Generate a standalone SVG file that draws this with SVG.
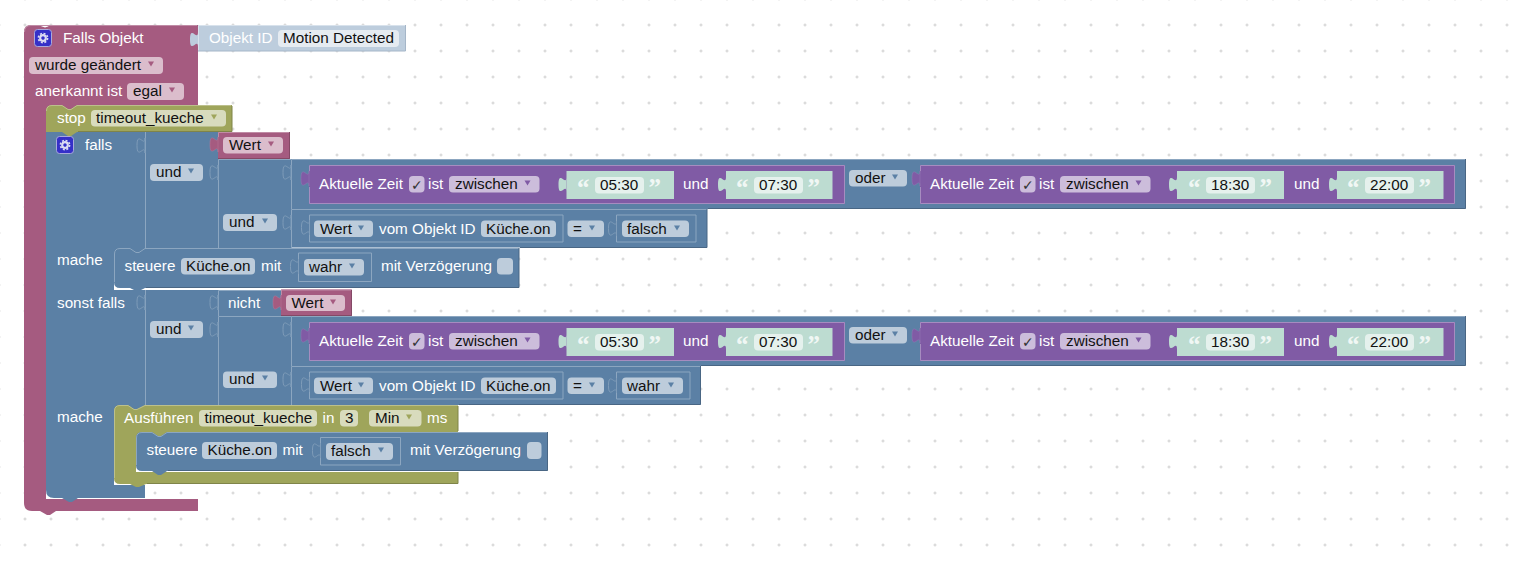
<svg xmlns="http://www.w3.org/2000/svg" width="1521" height="568" viewBox="0 0 1521 568">
<style>
text{font-family:"Liberation Sans",Arial,sans-serif;font-size:15.25px;fill:#fff}
text.d{fill:#111}
text.c{font-family:"DejaVu Sans",sans-serif;font-size:14px;fill:#333}
text.q{font-family:"Liberation Serif",serif;font-weight:bold;font-size:25px;fill:#fff;fill-opacity:.8}
.f{fill:#fff;fill-opacity:.6}
.blue{fill:#5b80a5}.pink{fill:#a55b80}.purple{fill:#805ba5}.olive{fill:#9fa55b}.teal{fill:#bddcd1}.sky{fill:#bdcddd}
.lb{fill:none;stroke:#8ca6c0;stroke-width:1}.db{fill:none;stroke:#496684;stroke-width:1}
.lp{fill:none;stroke:#c08ca6;stroke-width:1}.dp{fill:none;stroke:#844966;stroke-width:1}
.lv{fill:none;stroke:#a68cc0;stroke-width:1}
.lo{fill:none;stroke:#bcc08c;stroke-width:1}.do{fill:none;stroke:#7f8449;stroke-width:1}
.ab{fill:#5b80a5}.ap{fill:#a55b80}.av{fill:#805ba5}.ao{fill:#9fa55b}
.sock{fill:#5b80a5;stroke:#7f9cb9;stroke-width:1}
.tp{fill:#a55b80;stroke:#b8799a;stroke-width:.5}
.tv{fill:#805ba5;stroke:#9478b4;stroke-width:.5}
.ic{fill:#3530c8;stroke:#a9a9dc;stroke-width:1}
</style>
<defs>
<pattern id="grid" patternUnits="userSpaceOnUse" x="12" y="12" width="26" height="26">
<path d="M11.5,13H14.5M13,11.500V14.500" stroke="#cfcfcf" stroke-width="1" fill="none"/>
</pattern>
<path id="tab" d="M0,0c0,10 -8,-8 -8,7.5s8,-2.5 8,7.5z"/>
<path id="arr" d="M-3,-2.5H3L0,2.5z"/>
<g id="gear"><circle r="2.8" fill="none" stroke="#dcdcf2" stroke-width="2.2"/><circle r="4.6" fill="none" stroke="#dcdcf2" stroke-width="1.6" stroke-dasharray="2 1.61"/></g>
</defs>
<rect x="0" y="0" width="1521" height="568" fill="#fff"/>
<rect x="0" y="0" width="1521" height="568" fill="url(#grid)"/>

<g id="hat">
<path class="pink" d="M24,32Q24,25 31,25H39l3,1.500 3,1 3,-1 2,-1.500H198V111H46V499H198V511H56l-6,4 -3,0 -7,-4H32Q24,511 24,503Z"/>
<path class="lp" d="M24.500,32Q24.500,25.500 31,25.500H197"/>
<text x="63" y="43">Falls Objekt</text>
<rect class="ic" x="34.500" y="29.500" width="17" height="17" rx="3"/><use href="#gear" x="43" y="38"/>
<rect class="f" x="29" y="57" width="134" height="17" rx="4"/>
<text class="d" x="35" y="70">wurde geändert</text><use class="ap" href="#arr" x="151" y="64"/>
<text x="35" y="96">anerkannt ist</text>
<rect class="f" x="127" y="83" width="57" height="17" rx="4"/>
<text class="d" x="133" y="96">egal</text><use class="ap" href="#arr" x="172" y="90"/>
</g>

<g id="objekt-id">
<path class="sky" d="M198,25H405.500V51H198Z"/><use class="sky" href="#tab" x="198" y="32"/>
<path d="M198.500,51V25.500H405" fill="none" stroke="#d8e2ec"/>
<path d="M405.500,25V51H198" fill="none" stroke="#a5b6c8"/>
<text x="209" y="43">Objekt ID</text>
<rect class="f" x="278" y="30" width="121" height="17" rx="4"/>
<text class="d" x="283" y="43">Motion Detected</text>
</g>

<g id="if-block">
<path class="blue" d="M46,132H145V254H114V290H145V411H114V485H145V498H78l-6,4 -3,0 -7,-4H54Q46,498 46,490Z"/>
<text x="85" y="150">falls</text>
<rect class="ic" x="56.500" y="136.500" width="17" height="17" rx="3"/><use href="#gear" x="65" y="145"/>
<text x="57" y="265">mache</text>
<text x="57" y="308">sonst falls</text>
<text x="57" y="422">mache</text>
</g>

<g id="stop">
<path class="olive" d="M46,111Q46,105 52,105H62l6,4 3,0 6,-4H232V132H77l-6,4 -3,0 -6,-4H46Z"/>
<path class="lo" d="M46.500,111Q46.500,105.500 52,105.500H62l6,4 3,0 6,-4H231"/><path class="do" d="M232,106V131.500H78"/>
<text x="57" y="123">stop</text>
<rect class="f" x="91" y="110" width="135" height="16.500" rx="4"/>
<text class="d" x="96" y="123">timeout_kueche</text><use class="ao" href="#arr" x="214" y="117"/>
</g>

<g id="und-outer-1">
<path class="blue" d="M145,132H218V248H145Z"/><path class="lb" d="M145.500,132V248"/>
<use class="sock" href="#tab" x="145" y="138"/>
<rect class="f" x="150" y="164" width="53" height="17" rx="4"/>
<text class="d" x="156" y="177">und</text><use class="ab" href="#arr" x="191" y="171"/>
</g>
<g id="wert-1">
<path class="pink" d="M218,132H290V159H218Z"/><use class="tp" href="#tab" x="218" y="137"/>
<path class="lp" d="M218.500,137V132.500H289"/><path class="dp" d="M289.500,132V158.500H218"/>
<rect class="f" x="223" y="137" width="60" height="16.500" rx="4"/>
<text class="d" x="229" y="150">Wert</text><use class="ap" href="#arr" x="271" y="144"/>
</g>
<g id="und-inner-1">
<path class="blue" d="M218,159H291V248H218Z"/><path class="lb" d="M218.500,248V159.500H291"/>
<use class="sock" href="#tab" x="218" y="165"/>
<rect class="f" x="223" y="214" width="54" height="17" rx="4"/>
<text class="d" x="229" y="227">und</text><use class="ab" href="#arr" x="265" y="221"/>
</g>

<g id="oder-1">
<path class="blue" d="M291,159H1465.500V209H291Z"/><path class="lb" d="M291.500,209V159.500H1465"/><path class="db" d="M1465.500,159V208.500H708"/>
<use class="sock" href="#tab" x="291" y="165"/>
<rect class="f" x="849" y="170" width="58" height="16.500" rx="4"/>
<text class="d" x="855" y="183">oder</text><use class="ab" href="#arr" x="895" y="177"/>
<g id="zeit-1">
<path class="purple" d="M309,165H845V204H309Z"/><use class="tv" href="#tab" x="309" y="171"/>
<path class="lv" d="M309.500,171V165.500H844.500V203.500H309.500V187"/>
<text x="319" y="189">Aktuelle Zeit</text>
<rect class="f" x="409" y="176" width="15.500" height="16.500" rx="4"/><text class="c" x="411" y="190">✓</text>
<text x="428" y="189">ist</text>
<rect class="f" x="449" y="176" width="90.500" height="16.500" rx="4"/>
<text class="d" x="455" y="189">zwischen</text><use class="av" href="#arr" x="527.500" y="183"/>
<path class="teal" d="M566.500,171H674V199H566.500Z"/><use class="teal" href="#tab" x="566.500" y="177"/>
<text class="q" x="577" y="196">“</text><rect class="f" x="595" y="177" width="49" height="16.500" rx="4"/>
<text class="d" x="600" y="190">05:30</text><text class="q" x="648.500" y="196">”</text>
<text x="683" y="189">und</text>
<path class="teal" d="M726,171H832.500V199H726Z"/><use class="teal" href="#tab" x="726" y="177"/>
<text class="q" x="736" y="196">“</text><rect class="f" x="754" y="177" width="49" height="16.500" rx="4"/>
<text class="d" x="759" y="190">07:30</text><text class="q" x="807.500" y="196">”</text>
</g>
<g id="zeit-2" transform="translate(611,0)">
<path class="purple" d="M309,165H844V204H309Z"/><use class="tv" href="#tab" x="309" y="171"/>
<path class="lv" d="M309.500,171V165.500H843.500V203.500H309.500V187"/>
<text x="319" y="189">Aktuelle Zeit</text>
<rect class="f" x="409" y="176" width="15.500" height="16.500" rx="4"/><text class="c" x="411" y="190">✓</text>
<text x="428" y="189">ist</text>
<rect class="f" x="449" y="176" width="90.500" height="16.500" rx="4"/>
<text class="d" x="455" y="189">zwischen</text><use class="av" href="#arr" x="527.500" y="183"/>
<path class="teal" d="M566,171H673V199H566Z"/><use class="teal" href="#tab" x="566" y="177"/>
<text class="q" x="577" y="196">“</text><rect class="f" x="595" y="177" width="49" height="16.500" rx="4"/>
<text class="d" x="600" y="190">18:30</text><text class="q" x="648.500" y="196">”</text>
<text x="683" y="189">und</text>
<path class="teal" d="M726,171H832.500V199H726Z"/><use class="teal" href="#tab" x="726" y="177"/>
<text class="q" x="736" y="196">“</text><rect class="f" x="754" y="177" width="49" height="16.500" rx="4"/>
<text class="d" x="759" y="190">22:00</text><text class="q" x="807.500" y="196">”</text>
</g>
</g>

<g id="und-row-1">
<path class="blue" d="M291,209H707V247.500H291Z"/><path class="lb" d="M291.500,248V209.500H707"/><path class="db" d="M707,209V247.500H520"/>
<use class="sock" href="#tab" x="291" y="215"/>
<path class="lb" d="M309.500,215H563V242H309.500Z"/><use class="sock" href="#tab" x="309.500" y="220"/>
<rect class="f" x="314" y="220.500" width="59" height="16.500" rx="4"/>
<text class="d" x="320" y="234">Wert</text><use class="ab" href="#arr" x="361" y="228"/>
<text x="379" y="234">vom Objekt ID</text>
<rect class="f" x="481" y="220.500" width="75" height="16.500" rx="4"/>
<text class="d" x="486" y="234">Küche.on</text>
<rect class="f" x="567.500" y="220.500" width="36.500" height="16.500" rx="4"/>
<text class="d" x="573" y="234">=</text><use class="ab" href="#arr" x="592" y="228"/>
<path class="lb" d="M616.500,215H696V242H616.500Z"/><use class="sock" href="#tab" x="616.500" y="221"/>
<rect class="f" x="622" y="220.500" width="67" height="16.500" rx="4"/>
<text class="d" x="627" y="234">falsch</text><use class="ab" href="#arr" x="677" y="228"/>
</g>

<g id="steuere-1">
<path class="blue" d="M120,248H130l6,4 3,0 6,-4H519V288H145l-6,3 -3,0 -6,-3H120Q114,288 114,282V254Q114,248 120,248Z"/>
<path class="lb" d="M114.500,282V254Q114.500,248.500 120,248.500H130l6,4 3,0 6,-4H519"/>
<path class="db" d="M519,248V287.500H146"/>
<text x="124.500" y="271">steuere</text>
<rect class="f" x="181" y="258" width="74" height="16.500" rx="4"/>
<text class="d" x="186" y="271">Küche.on</text>
<text x="261" y="271">mit</text>
<path class="lb" d="M298.500,253H371.500V281.500H298.500Z"/><use class="sock" href="#tab" x="298.500" y="259"/>
<rect class="f" x="304" y="259" width="60" height="16.500" rx="4"/>
<text class="d" x="309" y="272">wahr</text><use class="ab" href="#arr" x="352" y="266"/>
<text x="381" y="271">mit Verzögerung</text>
<rect class="f" x="497" y="258" width="16" height="16.500" rx="4"/>
</g>

<g id="und-outer-2">
<path class="blue" d="M145,290H218V405H145Z"/><path class="lb" d="M145.500,290V405"/>
<use class="sock" href="#tab" x="145" y="295"/>
<rect class="f" x="150" y="321" width="53" height="17" rx="4"/>
<text class="d" x="156" y="334">und</text><use class="ab" href="#arr" x="191" y="328"/>
</g>
<g id="nicht">
<path class="blue" d="M218,290H281V316H218Z"/><path class="lb" d="M218.500,316V290.500H281"/>
<use class="sock" href="#tab" x="218" y="295"/>
<text x="228" y="308">nicht</text>
</g>
<g id="wert-2">
<path class="pink" d="M281,289.500H352V316H281Z"/><use class="tp" href="#tab" x="281" y="295"/>
<path class="lp" d="M281.500,295V290H351"/><path class="dp" d="M351.500,290V315.500H281"/>
<rect class="f" x="286" y="295" width="59" height="16" rx="4"/>
<text class="d" x="291.500" y="308">Wert</text><use class="ap" href="#arr" x="333" y="302"/>
</g>
<g id="und-inner-2">
<path class="blue" d="M218,316H291V405H218Z"/><path class="lb" d="M218.500,405V316.500H291"/>
<use class="sock" href="#tab" x="218" y="322"/>
<rect class="f" x="223" y="371.500" width="54" height="16.500" rx="4"/>
<text class="d" x="229" y="384">und</text><use class="ab" href="#arr" x="265" y="378"/>
</g>

<g id="oder-2">
<path class="blue" d="M291,316H1465.500V366H291Z"/><path class="lb" d="M291.500,366V316.500H1465"/><path class="db" d="M1465.500,316V365.500H701"/>
<use class="sock" href="#tab" x="291" y="322"/>
<rect class="f" x="849" y="327" width="58" height="16.500" rx="4"/>
<text class="d" x="855" y="340">oder</text><use class="ab" href="#arr" x="895" y="334"/>
<g id="zeit-3" transform="translate(0,157)">
<path class="purple" d="M309,165H845V204H309Z"/><use class="tv" href="#tab" x="309" y="171"/>
<path class="lv" d="M309.500,171V165.500H844.500V203.500H309.500V187"/>
<text x="319" y="189">Aktuelle Zeit</text>
<rect class="f" x="409" y="176" width="15.500" height="16.500" rx="4"/><text class="c" x="411" y="190">✓</text>
<text x="428" y="189">ist</text>
<rect class="f" x="449" y="176" width="90.500" height="16.500" rx="4"/>
<text class="d" x="455" y="189">zwischen</text><use class="av" href="#arr" x="527.500" y="183"/>
<path class="teal" d="M566.500,171H674V199H566.500Z"/><use class="teal" href="#tab" x="566.500" y="177"/>
<text class="q" x="577" y="196">“</text><rect class="f" x="595" y="177" width="49" height="16.500" rx="4"/>
<text class="d" x="600" y="190">05:30</text><text class="q" x="648.500" y="196">”</text>
<text x="683" y="189">und</text>
<path class="teal" d="M726,171H832.500V199H726Z"/><use class="teal" href="#tab" x="726" y="177"/>
<text class="q" x="736" y="196">“</text><rect class="f" x="754" y="177" width="49" height="16.500" rx="4"/>
<text class="d" x="759" y="190">07:30</text><text class="q" x="807.500" y="196">”</text>
</g>
<g id="zeit-4" transform="translate(611,157)">
<path class="purple" d="M309,165H844V204H309Z"/><use class="tv" href="#tab" x="309" y="171"/>
<path class="lv" d="M309.500,171V165.500H843.500V203.500H309.500V187"/>
<text x="319" y="189">Aktuelle Zeit</text>
<rect class="f" x="409" y="176" width="15.500" height="16.500" rx="4"/><text class="c" x="411" y="190">✓</text>
<text x="428" y="189">ist</text>
<rect class="f" x="449" y="176" width="90.500" height="16.500" rx="4"/>
<text class="d" x="455" y="189">zwischen</text><use class="av" href="#arr" x="527.500" y="183"/>
<path class="teal" d="M566,171H673V199H566Z"/><use class="teal" href="#tab" x="566" y="177"/>
<text class="q" x="577" y="196">“</text><rect class="f" x="595" y="177" width="49" height="16.500" rx="4"/>
<text class="d" x="600" y="190">18:30</text><text class="q" x="648.500" y="196">”</text>
<text x="683" y="189">und</text>
<path class="teal" d="M726,171H832.500V199H726Z"/><use class="teal" href="#tab" x="726" y="177"/>
<text class="q" x="736" y="196">“</text><rect class="f" x="754" y="177" width="49" height="16.500" rx="4"/>
<text class="d" x="759" y="190">22:00</text><text class="q" x="807.500" y="196">”</text>
</g>
</g>

<g id="und-row-2">
<path class="blue" d="M291,366H700.500V405H291Z"/><path class="lb" d="M291.500,405V366.500H700"/><path class="db" d="M700.500,366V404.500H459"/>
<use class="sock" href="#tab" x="291" y="372"/>
<path class="lb" d="M309.500,372H563V399H309.500Z"/><use class="sock" href="#tab" x="309.500" y="377"/>
<rect class="f" x="314" y="377.500" width="59" height="16.500" rx="4"/>
<text class="d" x="320" y="391">Wert</text><use class="ab" href="#arr" x="361" y="385"/>
<text x="379" y="391">vom Objekt ID</text>
<rect class="f" x="481" y="377.500" width="75" height="16.500" rx="4"/>
<text class="d" x="486" y="391">Küche.on</text>
<rect class="f" x="567.500" y="377.500" width="36.500" height="16.500" rx="4"/>
<text class="d" x="573" y="391">=</text><use class="ab" href="#arr" x="592" y="385"/>
<path class="lb" d="M616.500,372H690V399H616.500Z"/><use class="sock" href="#tab" x="616.500" y="378"/>
<rect class="f" x="622" y="377.500" width="61" height="16.500" rx="4"/>
<text class="d" x="627" y="391">wahr</text><use class="ab" href="#arr" x="671" y="385"/>
</g>

<g id="ausfuehren">
<path class="olive" d="M120,405H128l6,4 3,0 8,-4H458V432H172V438H136V472H458V484H146l-7,3 -3,0 -6,-3H120Q114,484 114,478V411Q114,405 120,405Z"/>
<path class="lo" d="M114.500,478V411Q114.500,405.500 120,405.500H128l6,4 3,0 8,-4H458"/>
<path class="do" d="M458,406V431M458,472V483.500H147"/>
<text x="124" y="423">Ausführen</text>
<rect class="f" x="199" y="410" width="118" height="16.500" rx="4"/>
<text class="d" x="204.500" y="423">timeout_kueche</text>
<text x="322.500" y="423">in</text>
<rect class="f" x="340" y="410" width="18" height="16.500" rx="4"/>
<text class="d" x="345" y="423">3</text>
<rect class="f" x="369" y="410" width="52.500" height="16.500" rx="4"/>
<text class="d" x="375" y="423">Min</text><use class="ao" href="#arr" x="409" y="417"/>
<text x="427" y="423">ms</text>
</g>

<g id="steuere-2">
<path class="blue" d="M142,432H152l6,4 3,0 6,-4H547.500V471H167l-6,4 -3,0 -6,-4H142Q136,471 136,465V438Q136,432 142,432Z"/>
<path class="lb" d="M136.500,465V438Q136.500,432.500 142,432.500H152l6,4 3,0 6,-4H547"/>
<path class="db" d="M547.500,432V470.500H168"/>
<text x="146.500" y="455">steuere</text>
<rect class="f" x="202" y="442" width="75" height="17" rx="4"/>
<text class="d" x="207.500" y="455">Küche.on</text>
<text x="282.500" y="455">mit</text>
<path class="lb" d="M320.500,437.500H400.500V465H320.500Z"/><use class="sock" href="#tab" x="320.500" y="443"/>
<rect class="f" x="326" y="443" width="67" height="17" rx="4"/>
<text class="d" x="331" y="456">falsch</text><use class="ab" href="#arr" x="381" y="450"/>
<text x="410" y="455">mit Verzögerung</text>
<rect class="f" x="527" y="442" width="14.500" height="17" rx="4"/>
</g>
</svg>
